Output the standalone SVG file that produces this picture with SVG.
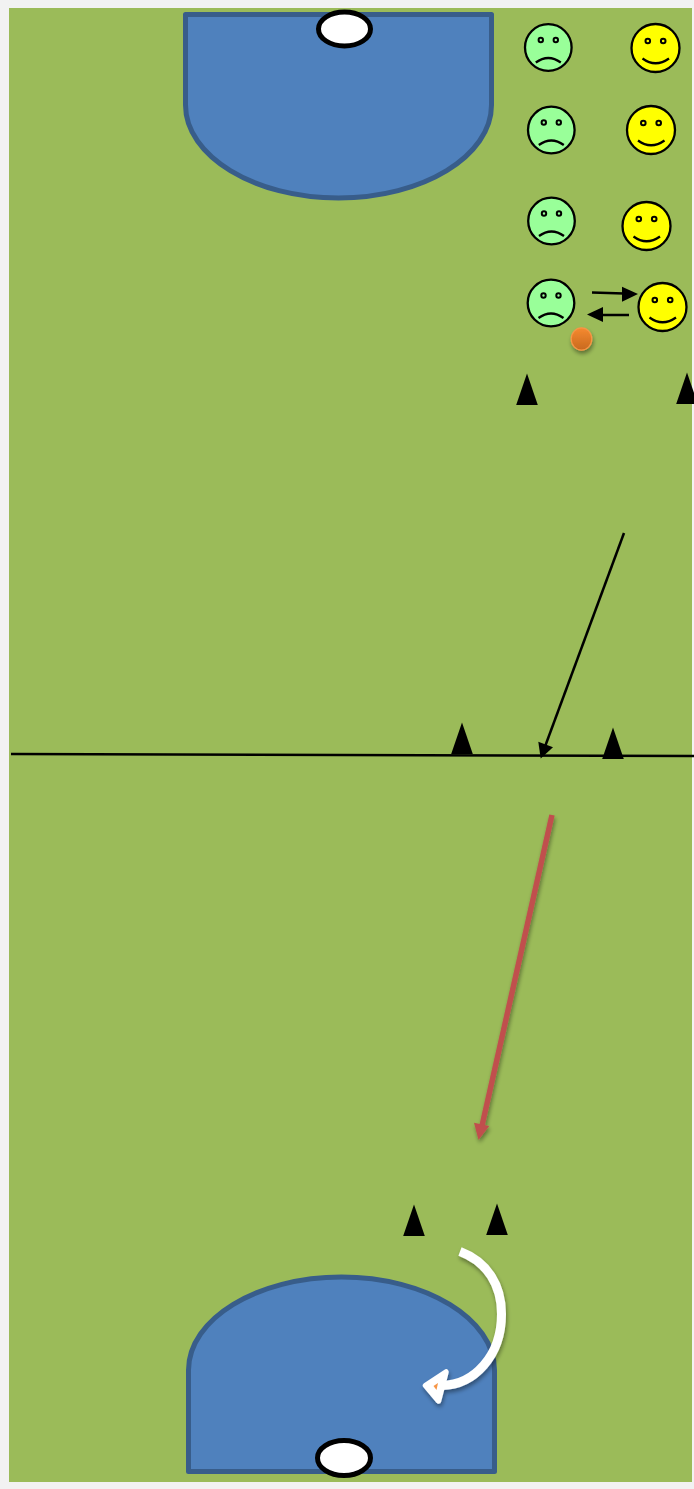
<svg xmlns="http://www.w3.org/2000/svg" width="694" height="1489" viewBox="0 0 694 1489">
<style>
.zone{fill:#4f81bd;stroke:#385d8a;stroke-width:5;stroke-linejoin:round}
.goal{fill:#fff;stroke:#000;stroke-width:5}
.face{stroke:#000;stroke-width:2.300}
.sad{fill:#99ff99}
.happy{fill:#ffff00}
.eye{fill:none;stroke:#000;stroke-width:2}
.mouth{fill:none;stroke:#000;stroke-width:2.300}
.cone{fill:#000}
.thin{stroke:#000;stroke-width:2.500;fill:none}
</style>
<defs>
<filter id="shadow" x="-40%" y="-40%" width="180%" height="180%"><feGaussianBlur in="SourceAlpha" stdDeviation="2"/><feOffset dx="0.5" dy="3"/><feComponentTransfer><feFuncA type="linear" slope="0.4"/></feComponentTransfer><feMerge><feMergeNode/><feMergeNode in="SourceGraphic"/></feMerge></filter>
<linearGradient id="ballFill" x1="0" y1="0" x2="0" y2="1"><stop offset="0" stop-color="#f68a30"/><stop offset="1" stop-color="#c8691e"/></linearGradient>
<g id="sadFace"><circle class="face sad" r="23.300"/><circle class="eye" cx="-7.500" cy="-7.500" r="2.200"/><circle class="eye" cx="7.500" cy="-7.500" r="2.200"/><path class="mouth" d="M-12.500 15Q0 6 12.500 15"/></g>
<g id="happyFace"><circle class="face happy" r="24"/><circle class="eye" cx="-7.700" cy="-7" r="2.300"/><circle class="eye" cx="7.700" cy="-7" r="2.300"/><path class="mouth" d="M-13 10.500Q0 20 13.500 10.500"/></g>
<polygon id="coneShape" class="cone" points="0,0 10.800,31.500 -10.800,31.500"/>
</defs>
<rect width="694" height="1489" fill="#f2f2f2"/>
<rect id="field" x="9" y="8" width="683" height="1474" fill="#9bbb59"/>
<g id="zone-top"><path class="zone" d="M185.500 14.500H491.500V105C491.500 156 423 198 338.500 198S185.500 156 185.500 105Z"/></g>
<g id="zone-bottom"><path class="zone" d="M188.500 1471.500H494.500V1370C494.500 1319 426 1277 341.500 1277S188.500 1319 188.500 1370Z"/></g>
<g id="goal-top"><ellipse class="goal" cx="344.500" cy="29" rx="26" ry="17"/></g>
<g id="goal-bottom"><ellipse class="goal" cx="344" cy="1458" rx="26.500" ry="17.500"/></g>
<g id="connectors">
<line class="thin" x1="11" y1="754" x2="694" y2="756"/>
<line class="thin" x1="624" y1="533" x2="543" y2="752"/>
<polygon points="540.700,758.500 538.300,741.700 553,747.300"/>
<line class="thin" x1="592" y1="292.500" x2="624" y2="293.500"/>
<polygon points="638,294 622,286.700 622,301.700"/>
<line class="thin" x1="629" y1="315" x2="601" y2="315"/>
<polygon points="587,314.500 603,307 603,322"/>
<g filter="url(#shadow)"><line x1="552" y1="815" x2="481.500" y2="1128" stroke="#c0504d" stroke-width="5.500"/><polygon points="478.500,1140 474,1122.700 489.300,1126" fill="#c0504d"/></g>
<g id="white-arrow" filter="url(#shadow)"><path d="M460 1251.500C488 1262 501.500 1286 501.500 1314C501.500 1356 474 1385 442 1385.500" fill="none" stroke="#fff" stroke-width="9"/><polygon points="425.500,1385.500 446,1372 438.500,1401" fill="#fff" stroke="#fff" stroke-width="5.500" stroke-linejoin="round"/><polygon points="433.500,1386 438,1383 436.500,1390" fill="#f79646"/></g>
</g>
<use id="sad-1" href="#sadFace" x="548.300" y="47.500"/>
<use id="sad-2" href="#sadFace" x="551.300" y="130"/>
<use id="sad-3" href="#sadFace" x="551.500" y="221"/>
<use id="sad-4" href="#sadFace" x="551" y="303"/>
<use id="happy-1" href="#happyFace" x="655.500" y="48"/>
<use id="happy-2" href="#happyFace" x="651" y="130"/>
<use id="happy-3" href="#happyFace" x="646.500" y="226"/>
<use id="happy-4" href="#happyFace" x="662.500" y="307"/>
<g id="ball"><ellipse cx="581.500" cy="339" rx="10.300" ry="11.200" fill="url(#ballFill)" stroke="#f79646" stroke-width="1.200" filter="url(#shadow)"/></g>
<use id="cone-1" href="#coneShape" x="527" y="373.500"/>
<use id="cone-2" href="#coneShape" x="687" y="372.500"/>
<use id="cone-3" href="#coneShape" x="462" y="722.500"/>
<use id="cone-4" href="#coneShape" x="613" y="727.500"/>
<use id="cone-5" href="#coneShape" x="414" y="1204.500"/>
<use id="cone-6" href="#coneShape" x="497" y="1203.500"/>
</svg>
